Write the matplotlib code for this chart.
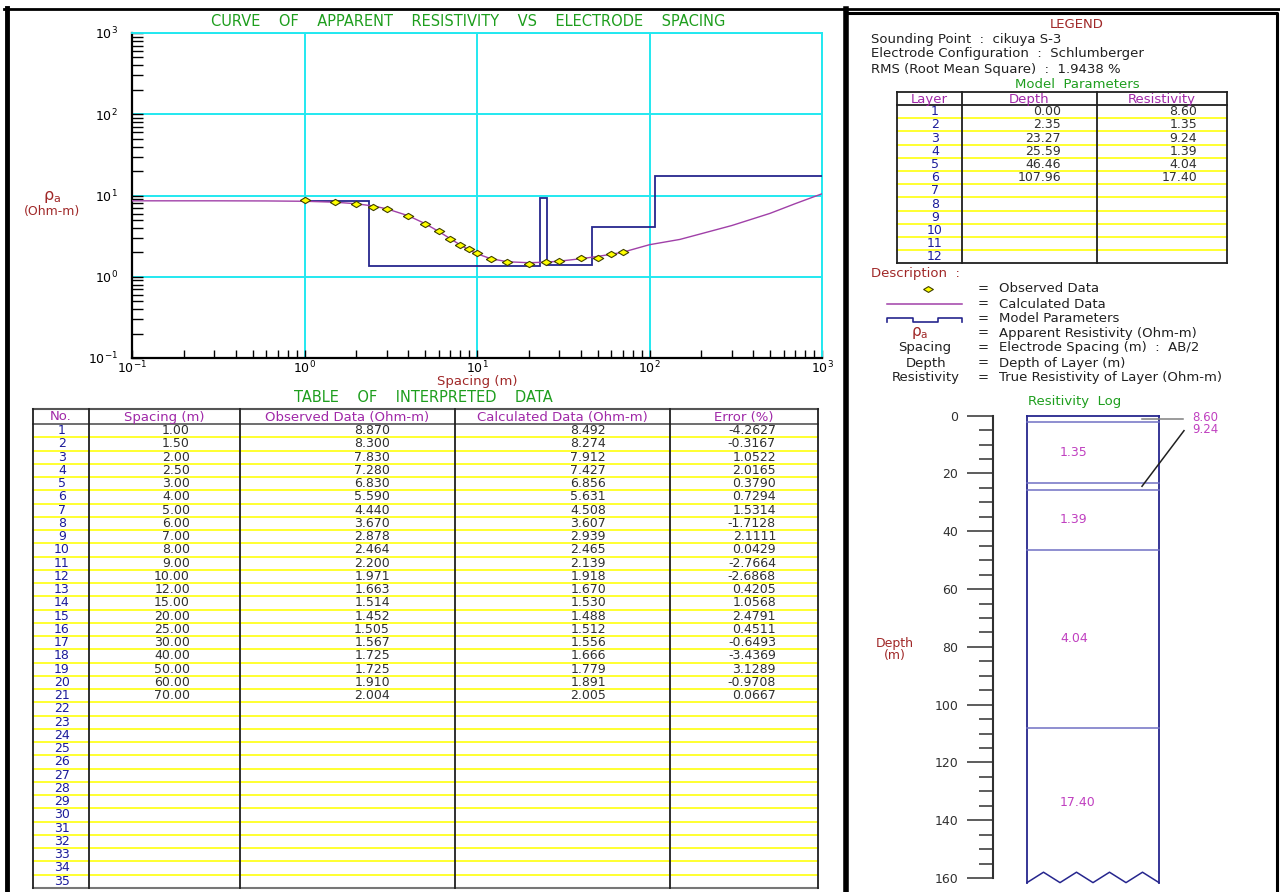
import numpy as np
import matplotlib
matplotlib.use('Agg')
import matplotlib.pyplot as plt
from matplotlib.ticker import LogLocator, MultipleLocator, NullFormatter

# sounding data
spacing = [1.00, 1.50, 2.00, 2.50, 3.00, 4.00, 5.00, 6.00, 7.00, 8.00, 9.00,
           10.00, 12.00, 15.00, 20.00, 25.00, 30.00, 40.00, 50.00, 60.00, 70.00]
observed = [8.870, 8.300, 7.830, 7.280, 6.830, 5.590, 4.440, 3.670, 2.878, 2.464, 2.200,
            1.971, 1.663, 1.514, 1.452, 1.505, 1.567, 1.725, 1.725, 1.910, 2.004]
calculated = [8.492, 8.274, 7.912, 7.427, 6.856, 5.631, 4.508, 3.607, 2.939, 2.465, 2.139,
              1.918, 1.670, 1.530, 1.488, 1.512, 1.556, 1.666, 1.779, 1.891, 2.005]
error = [-4.2627, -0.3167, 1.0522, 2.0165, 0.3790, 0.7294, 1.5314, -1.7128, 2.1111, 0.0429, -2.7664,
         -2.6868, 0.4205, 1.0568, 2.4791, 0.4511, -0.6493, -3.4369, 3.1289, -0.9708, 0.0667]

# calculated curve outside the measured range
curve_left_x = [0.1, 0.3, 0.6]
curve_left_y = [8.60, 8.60, 8.57]
curve_right_x = [100, 150, 200, 300, 500, 700, 1000]
curve_right_y = [2.48, 2.88, 3.39, 4.27, 6.03, 7.94, 10.5]

# layered model
layer_no = [1, 2, 3, 4, 5, 6]
layer_depth = [0.00, 2.35, 23.27, 25.59, 46.46, 107.96]
layer_res = [8.60, 1.35, 9.24, 1.39, 4.04, 17.40]

sounding_point = 'cikuya S-3'
configuration = 'Schlumberger'
rms = 1.9438

W, H = 1280, 892
GREEN = '#1e9e1e'
DRED = '#a02828'
PURPLE = '#a028a8'
NAVY = '#1c1c9a'
VAL = '#303030'
YEL = '#ffff30'
MODEL = '#26268e'
CALC = '#a040a8'
CYAN = '#22e8f0'

plt.rcParams['font.family'] = ['DejaVu Sans']


def box(l, t, r, b):
    return [l / W, 1 - b / H, (r - l) / W, (b - t) / H]


fig = plt.figure(figsize=(12.8, 8.92), dpi=100)

bg = fig.add_axes([0, 0, 1, 1], zorder=0)
bg.set_xlim(0, W)
bg.set_ylim(H, 0)
bg.axis('off')


def txt(x, y, s, color=VAL, size=9, ha='left', **kw):
    bg.text(x, y, s, color=color, fontsize=size, ha=ha, va='center', **kw)


# frames
bg.plot([4, 1280], [9, 9], color='black', lw=2)
bg.plot([7, 7], [8, 892], color='black', lw=3.5)
bg.plot([846, 846], [9, 892], color='black', lw=4)
bg.plot([846, 1277, 1277], [12.5, 12.5, 892], color='black', lw=2.2)

# ---- apparent resistivity curve ----
ax = fig.add_axes(box(132, 33, 822, 358), zorder=2)
ax.set_facecolor('none')
ax.set_xscale('log')
ax.set_yscale('log')
ax.set_xlim(0.1, 1000)
ax.set_ylim(0.1, 1000)

ax.set_axisbelow(True)
ax.grid(True, which='major', color=CYAN, lw=1.4)
ax.grid(False, which='minor')
for s in ['top', 'right']:
    ax.spines[s].set_color(CYAN)
    ax.spines[s].set_linewidth(1.4)
for s in ['left', 'bottom']:
    ax.spines[s].set_color('black')
    ax.spines[s].set_linewidth(1.6)

for axis in (ax.xaxis, ax.yaxis):
    axis.set_major_locator(LogLocator(base=10, numticks=10))
    axis.set_minor_locator(LogLocator(base=10, subs=np.arange(2, 10), numticks=20))
    axis.set_minor_formatter(NullFormatter())
ax.tick_params(axis='y', which='both', direction='in', length=8, width=1.0, color='black',
               labelsize=9, pad=10)
ax.tick_params(axis='x', which='both', direction='in', length=6, width=1.0, color='black',
               labelsize=9, pad=1)

edges = [spacing[0]] + layer_depth[1:] + [1000]
ax.stairs(layer_res, edges, baseline=None, color=MODEL, lw=1.3, zorder=3)

cx = curve_left_x + spacing + curve_right_x
cy = curve_left_y + calculated + curve_right_y
ax.plot(cx, cy, color=CALC, lw=1.0, zorder=4)

diamond = [(-1, 0), (0, 0.6), (1, 0), (0, -0.6), (-1, 0)]
ax.plot(spacing, observed, ls='none', marker=diamond, markersize=7.5,
        markerfacecolor='#ffff00', markeredgecolor='#404000', markeredgewidth=0.8, zorder=5)

txt(468, 21, 'CURVE    OF    APPARENT    RESISTIVITY    VS    ELECTRODE    SPACING',
    color=GREEN, size=10.5, ha='center')
txt(52, 197, r'$\mathrm{\rho_a}$', color=DRED, size=11.5, ha='center')
txt(52, 211, '(Ohm-m)', color=DRED, size=9, ha='center')
txt(477, 382, 'Spacing (m)', color=DRED, size=9.5, ha='center')

# ---- table of interpreted data ----
txt(423, 398, 'TABLE    OF    INTERPRETED    DATA', color=GREEN, size=10.5, ha='center')
cols = [33, 89, 240, 455, 670, 818]
t_top, t_head, row_h, n_rows = 409, 424, 13.25, 35
t_bot = t_head + n_rows * row_h
for k in range(1, n_rows):
    y = t_head + k * row_h
    bg.plot([cols[0], cols[-1]], [y, y], color=YEL, lw=1.4)
bg.plot([cols[0], cols[-1]], [t_top, t_top], color='#555555', lw=1.5)
bg.plot([cols[0], cols[-1]], [t_head, t_head], color='#555555', lw=1.2)
bg.plot([cols[0], cols[-1]], [t_bot, t_bot], color='#777777', lw=1.5)
for x in cols:
    bg.plot([x, x], [t_top, t_bot], color='#202020', lw=1.3)

headers = ['No.', 'Spacing (m)', 'Observed Data (Ohm-m)', 'Calculated Data (Ohm-m)', 'Error (%)']
for i, hd in enumerate(headers):
    txt((cols[i] + cols[i + 1]) / 2, (t_top + t_head) / 2 + 0.5, hd, color=PURPLE, ha='center',
        size=9.5)

for r in range(n_rows):
    y = t_head + (r + 0.5) * row_h
    txt(62, y, str(r + 1), color=NAVY, ha='center')
    if r < len(spacing):
        txt(190, y, f'{spacing[r]:.2f}', ha='right')
        txt(390, y, f'{observed[r]:.3f}', ha='right')
        txt(606, y, f'{calculated[r]:.3f}', ha='right')
        txt(776, y, f'{error[r]:.4f}', ha='right')

# ---- legend panel ----
txt(1077, 24, 'LEGEND', color=DRED, size=9.5, ha='center')
txt(871, 39, f'Sounding Point  :  {sounding_point}', color='#202020', size=9.5)
txt(871, 54, f'Electrode Configuration  :  {configuration}', color='#202020', size=9.5)
txt(871, 69, f'RMS (Root Mean Square)  :  {rms:.4f} %', color='#202020', size=9.5)
txt(1077, 84, 'Model  Parameters', color=GREEN, size=9.5, ha='center')

mcols = [897, 962, 1097, 1227]
m_top, m_head, m_row, m_n = 92, 105, 13.2, 12
m_bot = m_head + m_n * m_row
for k in range(1, m_n):
    y = m_head + k * m_row
    bg.plot([mcols[0], mcols[-1]], [y, y], color=YEL, lw=1.4)
for y in (m_top, m_head, m_bot):
    bg.plot([mcols[0], mcols[-1]], [y, y], color='#202020', lw=1.3)
for x in mcols:
    bg.plot([x, x], [m_top, m_bot], color='#202020', lw=1.3)
for i, hd in enumerate(['Layer', 'Depth', 'Resistivity']):
    txt((mcols[i] + mcols[i + 1]) / 2, (m_top + m_head) / 2 + 0.5, hd, color=PURPLE, ha='center',
        size=9.5)
for r in range(m_n):
    y = m_head + (r + 0.5) * m_row
    txt(935, y, str(r + 1), color=NAVY, ha='center')
    if r < len(layer_no):
        txt(1061, y, f'{layer_depth[r]:.2f}', ha='right')
        txt(1197, y, f'{layer_res[r]:.2f}', ha='right')

txt(871, 274, 'Description  :', color=DRED, size=9.5)
desc = ['Observed Data', 'Calculated Data', 'Model Parameters',
        'Apparent Resistivity (Ohm-m)', 'Electrode Spacing (m)  :  AB/2',
        'Depth of Layer (m)', 'True Resistivity of Layer (Ohm-m)']
desc_y = [289, 304, 319, 333, 348, 363, 378]
for y, d in zip(desc_y, desc):
    txt(983, y, '=', color='#202020', ha='center', size=9.5)
    txt(999, y, d, color='#202020', size=9.5)
bg.plot([928], [289], ls='none', marker=diamond, markersize=7,
        markerfacecolor='#ffff00', markeredgecolor='#404000', markeredgewidth=0.8)
bg.plot([887, 962], [304, 304], color=CALC, lw=1.1)
bg.plot([887, 887, 913, 913, 938, 938, 962, 962], [321.5, 318, 318, 321.5, 321.5, 318, 318, 321.5],
        color=MODEL, lw=1.2)
txt(920, 333, r'$\mathrm{\rho_a}$', color=DRED, size=11, ha='center')
txt(925, 348, 'Spacing', color='#202020', ha='center', size=9.5)
txt(926, 363, 'Depth', color='#202020', ha='center', size=9.5)
txt(926, 378, 'Resistivity', color='#202020', ha='center', size=9.5)

# ---- resistivity log ----
txt(1075, 402, 'Resitivity  Log', color=GREEN, size=9.5, ha='center')
txt(895, 643, 'Depth', color=DRED, size=9, ha='center')
txt(895, 656, '(m)', color=DRED, size=9, ha='center')

lg = fig.add_axes(box(993, 415.7, 1280, 878), zorder=2)
lg.set_facecolor('none')
lg.set_xlim(993, 1280)
lg.set_ylim(160, 0)
for s in ['top', 'right', 'bottom']:
    lg.spines[s].set_visible(False)
lg.spines['left'].set_color('#303030')
lg.spines['left'].set_linewidth(1.5)
lg.set_xticks([])
lg.yaxis.set_major_locator(MultipleLocator(20))
lg.yaxis.set_minor_locator(MultipleLocator(5))
lg.tick_params(axis='y', which='major', length=19, width=1.1, color='#303030',
               labelsize=9, labelcolor='#303030', pad=6)
lg.tick_params(axis='y', which='minor', length=10, width=1.1, color='#303030')

col_l, col_r = 1027, 1159
zig_x = np.linspace(col_l, col_r, 9)
zig_y = [161.6 if i % 2 == 0 else 158.0 for i in range(9)]
lg.plot([col_l, col_r], [0, 0], color=MODEL, lw=1.3, clip_on=False)
lg.plot([col_l, col_l], [0, zig_y[0]], color=MODEL, lw=1.3, clip_on=False)
lg.plot([col_r, col_r], [0, zig_y[-1]], color=MODEL, lw=1.3, clip_on=False)
lg.plot(zig_x, zig_y, color=MODEL, lw=1.1, clip_on=False)
for d in layer_depth[1:]:
    lg.plot([col_l, col_r], [d, d], color='#7070c4', lw=1.1)

LAB = '#c040c0'
bottoms = layer_depth[1:] + [160]
for top, bot, res in zip(layer_depth, bottoms, layer_res):
    mid = (top + bot) / 2
    if bot - top > 5:
        lg.text(1060, mid, f'{res:.2f}', color=LAB, fontsize=9, ha='left', va='center')

# thin layers are labelled beside the column
mid1 = (layer_depth[0] + layer_depth[1]) / 2
mid3 = (layer_depth[2] + layer_depth[3]) / 2
lg.plot([1142, 1183], [mid1, mid1], color='#808080', lw=1.1)
lg.text(1192, mid1 - 0.6, f'{layer_res[0]:.2f}', color=LAB, fontsize=8.5, ha='left', va='center')
lg.plot([1184, 1142], [mid1 + 4.0, mid3], color='#202020', lw=1.1)
lg.text(1192, mid1 + 3.6, f'{layer_res[2]:.2f}', color=LAB, fontsize=8.5, ha='left', va='center')

fig.savefig('out.png', dpi=100)
